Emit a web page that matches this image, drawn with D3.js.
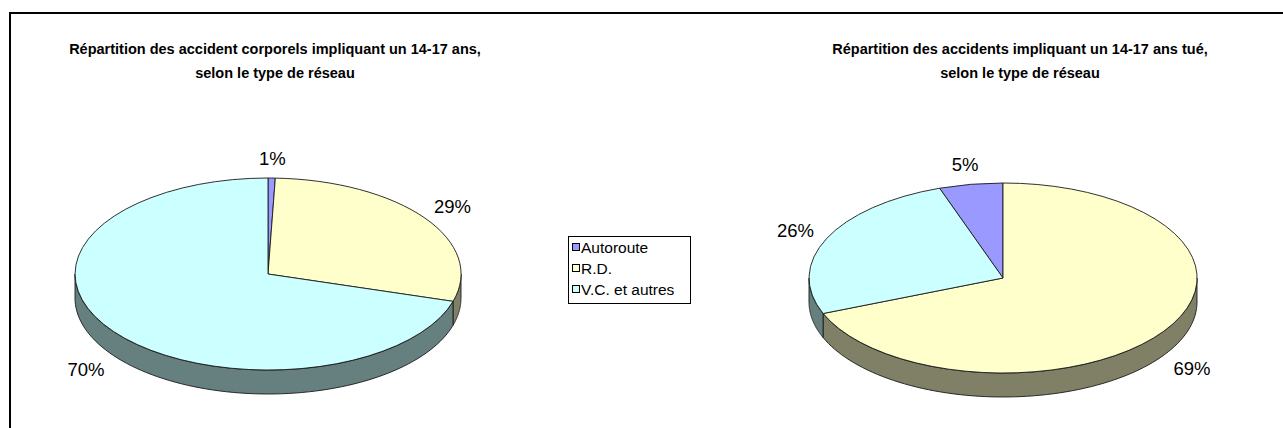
<!DOCTYPE html>
<html><head><meta charset="utf-8">
<script src="https://cdn.jsdelivr.net/npm/d3@7"></script>
<style>body{margin:0;background:#fff}svg{display:block}text{font-family:"Liberation Sans",Arial,sans-serif;fill:#000}</style>
</head><body><svg id="c" width="1283" height="428"></svg>
<script>
const categories = ["Autoroute", "R.D.", "V.C. et autres"];
const colors = ["#9999FF", "#FFFFCC", "#CCFFFF"];
const sideColors = ["#4D4D80", "#808066", "#668080"];
const valuesCorporels = [0.6, 29.0, 70.4];
const labelsCorporels = ["1%", "29%", "70%"];
const valuesTues = [5.3, 68.9, 25.8];
const labelsTues = ["5%", "69%", "26%"];
const titleCorporels = ["Répartition des accident corporels impliquant un 14-17 ans,", "selon le type de réseau"];
const titleTues = ["Répartition des accidents impliquant un 14-17 ans tué,", "selon le type de réseau"];

const svg = d3.select("#c");
svg.append("rect").attr("width", 1283).attr("height", 428).attr("fill", "#fff");
svg.append("path").attr("d", "M10,430V13H1290").attr("fill", "none").attr("stroke", "#000").attr("stroke-width", 2);

function drawPie(values, labels, title, o) {
  const g = svg.append("g");
  const total = d3.sum(values);
  const off = o.rotateFirstBack ? -values[0] / total * 2 * Math.PI : 0;
  const arcs = d3.pie().sort(null).value(d => d).startAngle(off).endAngle(off + 2 * Math.PI)(values);
  const px = a => o.cx + o.rx * Math.sin(a);
  const py = a => o.cy - o.ry * Math.cos(a);
  const line = d3.line();
  // sides
  arcs.forEach((d, i) => {
    for (let k = -1; k <= 1; k++) {
      const lo = Math.max(d.startAngle, Math.PI / 2 + 2 * Math.PI * k);
      const hi = Math.min(d.endAngle, 3 * Math.PI / 2 + 2 * Math.PI * k);
      if (lo < hi) {
        const n = 80, pts = [];
        for (let j = 0; j <= n; j++) { const a = lo + (hi - lo) * j / n; pts.push([px(a), py(a)]); }
        for (let j = n; j >= 0; j--) { const a = lo + (hi - lo) * j / n; pts.push([px(a), py(a) + o.depth]); }
        g.append("path").attr("d", line(pts) + "Z").attr("fill", sideColors[i])
          .attr("stroke", "#1a1a1a").attr("stroke-width", 0.9).attr("stroke-linejoin", "round");
      }
    }
  });
  // top faces
  const arc = d3.arc().innerRadius(0).outerRadius(1);
  g.selectAll("path.top").data(arcs).join("path").attr("class", "top")
    .attr("d", arc).attr("transform", `translate(${o.cx},${o.cy}) scale(${o.rx},${o.ry})`)
    .attr("fill", (d, i) => colors[i]).attr("stroke", "#1a1a1a").attr("stroke-width", 0.9)
    .attr("vector-effect", "non-scaling-stroke").attr("stroke-linejoin", "round");
  // labels
  arcs.forEach((d, i) => {
    const m = (d.startAngle + d.endAngle) / 2;
    const lx = o.cx + (o.rx + 34) * Math.sin(m);
    const ly = o.cy - (o.ry + 20) * Math.cos(m) + (Math.cos(m) < 0 ? o.depth + 2 : 0);
    g.append("text").attr("x", lx).attr("y", ly).attr("text-anchor", "middle")
      .attr("dominant-baseline", "central").attr("font-size", 18.5).text(labels[i]);
  });
  // title
  title.forEach((t, i) => {
    g.append("text").attr("x", o.tx).attr("y", 54 + i * 24).attr("text-anchor", "middle")
      .attr("font-size", 14.5).attr("font-weight", "bold").text(t);
  });
}

drawPie(valuesCorporels, labelsCorporels, titleCorporels, {cx: 268, cy: 274, rx: 193, ry: 96, depth: 24, tx: 275, rotateFirstBack: false});
drawPie(valuesTues, labelsTues, titleTues, {cx: 1003, cy: 278, rx: 194, ry: 95, depth: 24, tx: 1020, rotateFirstBack: true});

// legend
const lg = svg.append("g");
lg.append("rect").attr("x", 568.5).attr("y", 236.5).attr("width", 122).attr("height", 67)
  .attr("fill", "#fff").attr("stroke", "#000").attr("stroke-width", 1);
const ly = d3.scalePoint().domain(categories).range([247, 289]);
categories.forEach((c, i) => {
  lg.append("rect").attr("x", 572.5).attr("y", ly(c) - 3.5).attr("width", 7).attr("height", 7)
    .attr("fill", colors[i]).attr("stroke", "#000").attr("stroke-width", 1);
  lg.append("text").attr("x", 581).attr("y", ly(c)).attr("dominant-baseline", "central")
    .attr("font-size", 15.5).text(c);
});
</script></body></html>
